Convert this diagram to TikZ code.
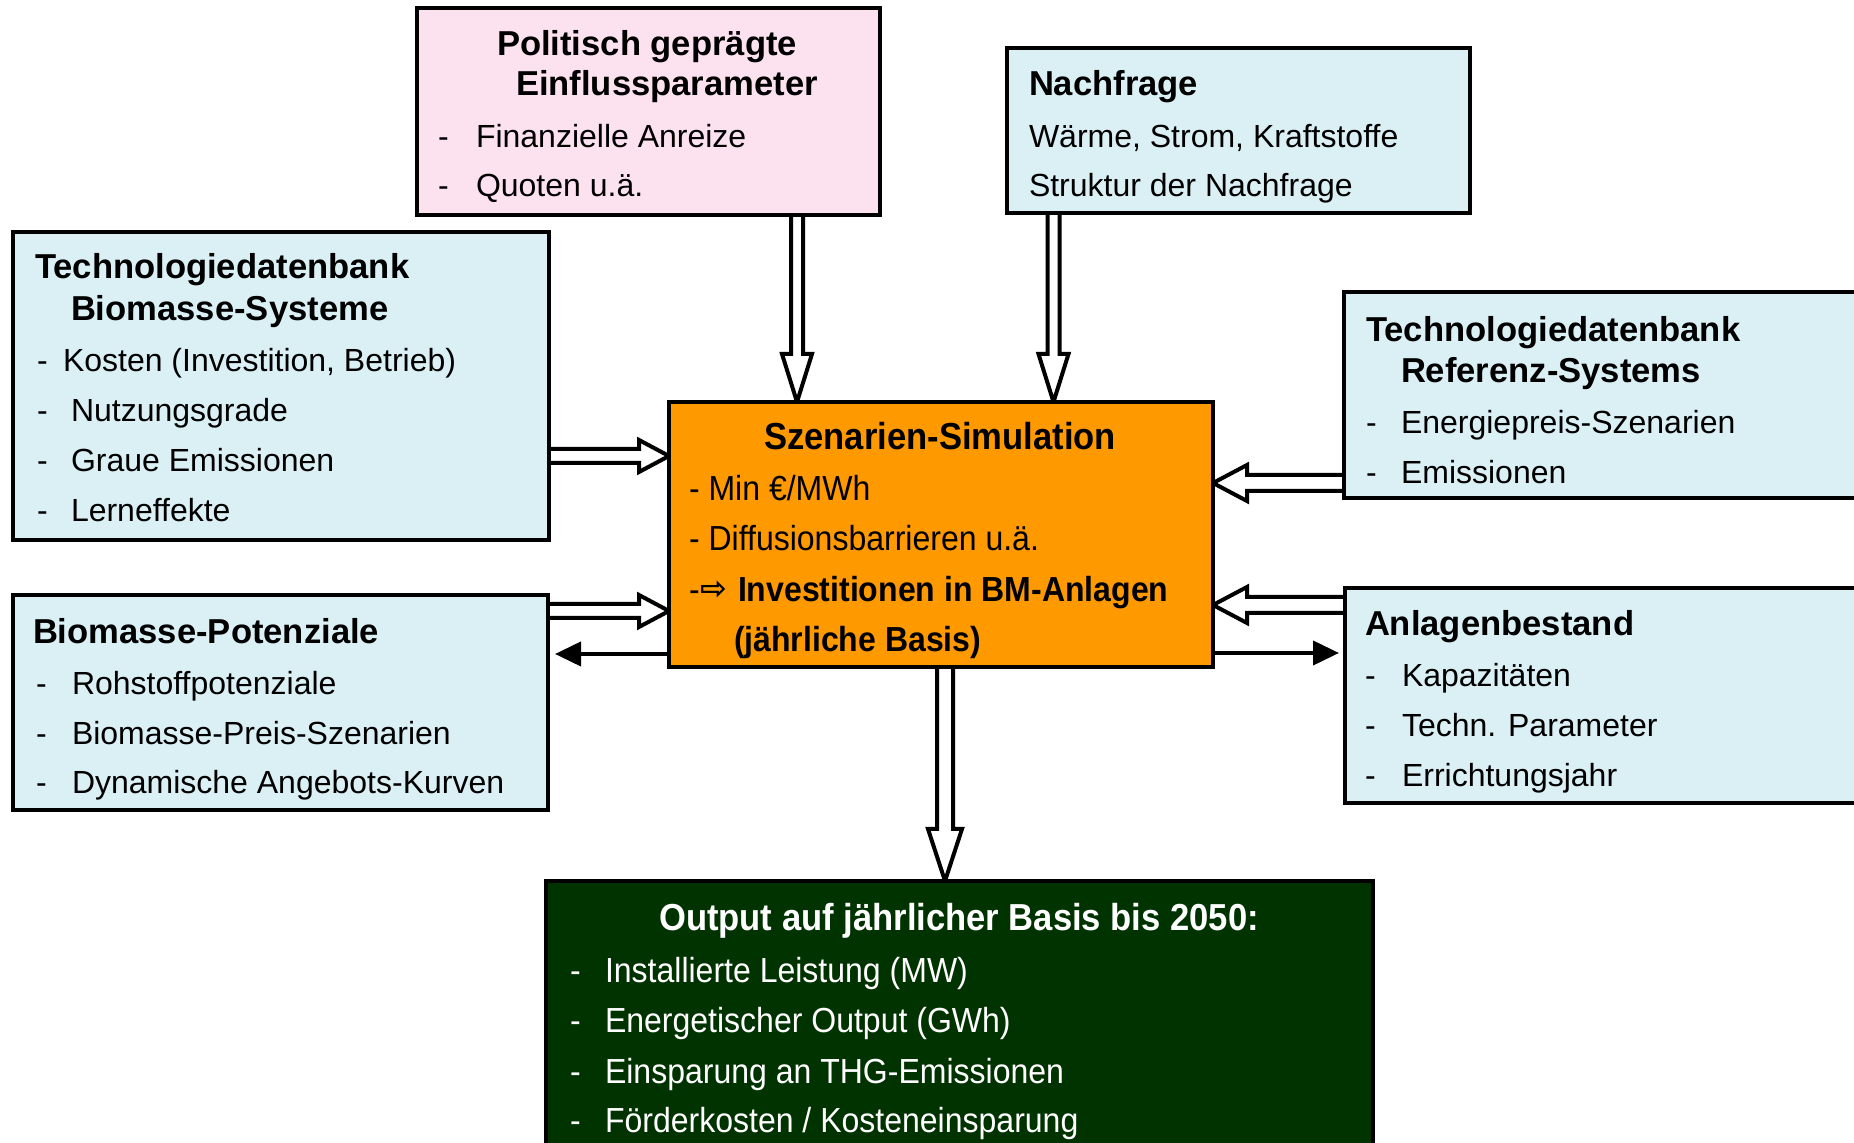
\documentclass[tikz,border=0pt]{standalone}
\usepackage{fontspec}
\setmainfont{Liberation Sans}
\newfontfamily\narrowfont[FakeStretch=0.92]{Liberation Sans}
\newfontfamily\arrowsymfont{DejaVu Sans}
\usetikzlibrary{calc,fit,backgrounds,arrows.meta}
\definecolor{cyanfill}{RGB}{218,240,245}
\definecolor{pinkfill}{RGB}{252,226,239}
\definecolor{orangefill}{RGB}{255,153,0}
\definecolor{greenfill}{RGB}{0,51,0}
\tikzset{
  box/.style={draw=black, line width=2pt, inner sep=0pt, outer sep=0pt},
  body/.style={inner sep=0pt, outer sep=0pt, anchor=base west, yshift=-1pt, font=\fontsize{16}{19}\selectfont},
  head/.style={inner sep=0pt, outer sep=0pt, anchor=base west, yshift=-1pt, font=\fontsize{17.3}{20}\selectfont\bfseries},
  nbody/.style={inner sep=0pt, outer sep=0pt, anchor=base west, yshift=-1.5pt, font=\narrowfont\fontsize{17.4}{20}\selectfont},
  nhead/.style={inner sep=0pt, outer sep=0pt, anchor=base, yshift=-1.5pt, font=\narrowfont\fontsize{18.8}{22}\selectfont\bfseries},
  fatarrow/.style={draw=black, fill=white, line width=2pt, line join=miter},
  thinarrow/.style={draw=black, line width=2pt, -{Triangle[length=13pt,width=12pt]}},
}
% #1 start, #2 tip, #3 shaft half width, #4 head half width, #5 head length
\newcommand\fatdown[5]{\draw[fatarrow] ($(#1)+(-#3,0)$) -- ($(#2)+(-#3,-#5)$) -- ($(#2)+(-#4,-#5)$) -- (#2) -- ($(#2)+(#4,-#5)$) -- ($(#2)+(#3,-#5)$) -- ($(#1)+(#3,0)$);}
\newcommand\fatright[5]{\draw[fatarrow] ($(#1)+(0,-#3)$) -- ($(#2)+(-#5,-#3)$) -- ($(#2)+(-#5,-#4)$) -- (#2) -- ($(#2)+(-#5,#4)$) -- ($(#2)+(-#5,#3)$) -- ($(#1)+(0,#3)$);}
\newcommand\fatleft[5]{\draw[fatarrow] ($(#1)+(0,-#3)$) -- ($(#2)+(#5,-#3)$) -- ($(#2)+(#5,-#4)$) -- (#2) -- ($(#2)+(#5,#4)$) -- ($(#2)+(#5,#3)$) -- ($(#1)+(0,#3)$);}
\begin{document}
\begin{tikzpicture}[x=0.5pt,y=-0.5pt]
\useasboundingbox (0,0) rectangle (1854,1143);
\clip (0,0) rectangle (1854,1143);

% boxes
\node[box, fill=pinkfill, fit={(417,8) (880,215)}] (pink) {};
\node[box, fill=cyanfill, fit={(1007,48) (1470,213)}] (nach) {};
\node[box, fill=cyanfill, fit={(13,232) (549,540)}] (techbm) {};
\node[box, fill=cyanfill, fit={(1344,292) (1875,498)}] (techref) {};
\node[box, fill=orangefill, fit={(669,402) (1213,667)}] (szen) {};
\node[box, fill=cyanfill, fit={(13,595) (548,810)}] (bmpot) {};
\node[box, fill=cyanfill, fit={(1345,588) (1875,803)}] (anlagen) {};
\node[box, fill=greenfill, fit={(546,881) (1373,1170)}] (output) {};

% Politisch
\node[head] (p-t1) at (497,54) {Politisch geprägte};
\node[head] (p-t2) at (516,94) {Einflussparameter};
\node[body] (p-d1) at (438,146) {-};
\node[body] (p-i1) at (476,146) {Finanzielle Anreize};
\node[body] (p-d2) at (438,195) {-};
\node[body] (p-i2) at (476,195) {Quoten u.ä.};

% Nachfrage
\node[head] (n-t1) at (1029,94) {Nachfrage};
\node[body] (n-i1) at (1029,146) {Wärme, Strom, Kraftstoffe};
\node[body] (n-i2) at (1029,195) {Struktur der Nachfrage};

% Technologiedatenbank Biomasse
\node[head] (tb-t1) at (35,277) {Technologiedatenbank};
\node[head] (tb-t2) at (71,319) {Biomasse-Systeme};
\node[body] (tb-d1) at (37,370) {-};
\node[body] (tb-i1) at (63,370) {Kosten (Investition, Betrieb)};
\node[body] (tb-d2) at (37,420) {-};
\node[body] (tb-i2) at (71,420) {Nutzungsgrade};
\node[body] (tb-d3) at (37,470) {-};
\node[body] (tb-i3) at (71,470) {Graue Emissionen};
\node[body] (tb-d4) at (37,520) {-};
\node[body] (tb-i4) at (71,520) {Lerneffekte};

% Technologiedatenbank Referenz
\node[head] (tr-t1) at (1366,340) {Technologiedatenbank};
\node[head] (tr-t2) at (1401,381) {Referenz-Systems};
\node[body] (tr-d1) at (1366,432) {-};
\node[body] (tr-i1) at (1401,432) {Energiepreis-Szenarien};
\node[body] (tr-d2) at (1366,482) {-};
\node[body] (tr-i2) at (1401,482) {Emissionen};

% Szenarien-Simulation
\node[nhead] (s-t1) at (940,447) {Szenarien-Simulation};
\node[nbody] (s-i1) at (689,498) {- Min €/MWh};
\node[nbody] (s-i2) at (689,548) {- Diffusionsbarrieren u.ä.};
\node[nbody] (s-d3) at (689,599) {-};
\node[inner sep=0pt, anchor=base west, yshift=-1.5pt, font=\arrowsymfont\bfseries\fontsize{16}{18}\selectfont] (s-a3) at (700,597) {⇨};
\node[nbody, font=\narrowfont\fontsize{17.4}{20}\selectfont\bfseries] (s-i3) at (738,599) {Investitionen in BM-Anlagen};
\node[nbody, font=\narrowfont\fontsize{17.4}{20}\selectfont\bfseries] (s-i4) at (734,649) {(jährliche Basis)};

% Biomasse-Potenziale
\node[head] (bp-t1) at (33,642) {Biomasse-Potenziale};
\node[body] (bp-d1) at (36,693) {-};
\node[body] (bp-i1) at (72,693) {Rohstoffpotenziale};
\node[body] (bp-d2) at (36,743) {-};
\node[body] (bp-i2) at (72,743) {Biomasse-Preis-Szenarien};
\node[body] (bp-d3) at (36,792) {-};
\node[body] (bp-i3) at (72,792) {Dynamische Angebots-Kurven};

% Anlagenbestand
\node[head] (ab-t1) at (1365,634) {Anlagenbestand};
\node[body] (ab-d1) at (1365,685) {-};
\node[body] (ab-i1) at (1402,685) {Kapazitäten};
\node[body] (ab-d2) at (1365,735) {-};
\node[body] (ab-i2) at (1402,735) {Techn. Parameter};
\node[body] (ab-d3) at (1365,785) {-};
\node[body] (ab-i3) at (1402,785) {Errichtungsjahr};

% Output
\node[nhead, text=white] (o-t1) at (959,928) {Output auf jährlicher Basis bis 2050:};
\node[nbody, text=white] (o-d1) at (570,980) {-};
\node[nbody, text=white] (o-i1) at (605,980) {Installierte Leistung (MW)};
\node[nbody, text=white] (o-d2) at (570,1030) {-};
\node[nbody, text=white] (o-i2) at (605,1030) {Energetischer Output (GWh)};
\node[nbody, text=white] (o-d3) at (570,1080) {-};
\node[nbody, text=white] (o-i3) at (605,1080) {Einsparung an THG-Emissionen};
\node[nbody, text=white] (o-d4) at (570,1129) {-};
\node[nbody, text=white] (o-i4) at (605,1129) {Förderkosten / Kosteneinsparung};

% connector end points
\coordinate (a1s) at ($(pink.south west)+(380,0)$);
\coordinate (a1e) at (a1s |- szen.north);
\coordinate (a2s) at ($(nach.south west)+(46.5,0)$);
\coordinate (a2e) at (a2s |- szen.north);
\coordinate (a3s) at ($(szen.south west)+(276,0)$);
\coordinate (a3e) at (a3s |- output.north);
\coordinate (a4s) at ($(techbm.north east)+(0,224)$);
\coordinate (a4e) at (a4s -| szen.west);
\coordinate (a5s) at ($(bmpot.north east)+(0,16)$);
\coordinate (a5e) at (a5s -| szen.west);
\coordinate (a6s) at ($(techref.south west)+(0,-15)$);
\coordinate (a6e) at (a6s -| szen.east);
\coordinate (a7s) at ($(anlagen.north west)+(0,17)$);
\coordinate (a7e) at (a7s -| szen.east);
\coordinate (a8s) at ($(szen.south west)+(0,-13)$);
\coordinate (a8e) at ($(a8s -| bmpot.east)+(7,0)$);
\coordinate (a9s) at ($(szen.south east)+(0,-14)$);
\coordinate (a9e) at ($(a9s -| anlagen.west)+(-6,0)$);

\begin{pgfonlayer}{background}
\fill[white] (0,0) rectangle (1854,1143);
\fatdown{a1s}{a1e}{6}{15}{48}
\fatdown{a2s}{a2e}{6}{15}{48}
\fatdown{a3s}{a3e}{8}{17}{52}
\fatright{a4s}{a4e}{7}{16}{30}
\fatright{a5s}{a5e}{7}{16}{30}
\fatleft{a6s}{a6e}{8}{18}{34}
\fatleft{a7s}{a7e}{8}{18}{34}
\draw[thinarrow] (a8s) -- (a8e);
\draw[thinarrow] (a9s) -- (a9e);
\end{pgfonlayer}
\end{tikzpicture}
\end{document}
